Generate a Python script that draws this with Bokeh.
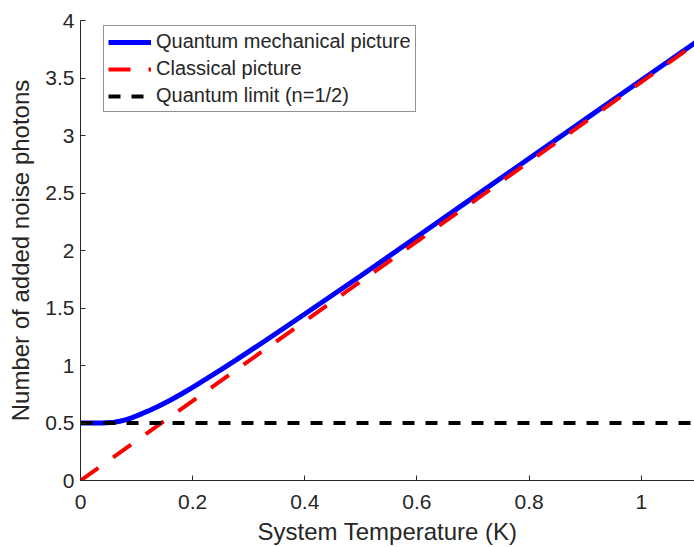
from bokeh.plotting import figure
from bokeh.models import Range1d, FixedTicker, Legend, LegendItem
from bokeh.embed import file_html
from bokeh.resources import INLINE

# Data
temp_quantum = [0.0, 0.02, 0.04, 0.06, 0.07, 0.08, 0.09, 0.1, 0.11, 0.12, 0.14,
                0.16, 0.18, 0.2, 0.225, 0.25, 0.275, 0.3, 0.35, 0.4, 0.5, 0.6,
                0.7, 0.8, 0.9, 1.0, 1.1]
n_quantum = [0.5, 0.5, 0.5005, 0.507, 0.515, 0.527, 0.543, 0.562, 0.582, 0.603,
             0.648, 0.698, 0.752, 0.81, 0.885, 0.962, 1.04, 1.12, 1.283, 1.448,
             1.78, 2.12, 2.46, 2.80, 3.14, 3.48, 3.82]
temp_classical = [0.0, 1.1]
n_classical = [0.0, 3.81]
temp_limit = [0.0, 1.1]
n_limit = [0.5, 0.5]

x_ticks = [0, 0.2, 0.4, 0.6, 0.8, 1]
y_ticks = [0, 0.5, 1, 1.5, 2, 2.5, 3, 3.5, 4]

labels = ["Quantum mechanical picture", "Classical picture", "Quantum limit (n=1/2)"]

TXT = "#262626"
FONT = "Liberation Sans"

def key(v):
    return int(v) if float(v).is_integer() else v

p = figure(width=694, height=547, output_backend="svg", toolbar_location=None,
           x_range=Range1d(0, 1.095), y_range=Range1d(0, 4),
           min_border_left=80, min_border_right=0, min_border_top=20,
           min_border_bottom=67)
p.outline_line_color = None
p.xgrid.visible = False
p.ygrid.visible = False
p.background_fill_color = "white"
p.border_fill_color = "white"

r1 = p.line(temp_quantum, n_quantum, line_color="#0000ff", line_width=5)
r2 = p.line(temp_classical, n_classical, line_color="#ff0000", line_width=4,
            line_dash="22 18")
r3 = p.line(temp_limit, n_limit, line_color="black", line_width=4,
            line_dash="12 11")

for ax, ticks in ((p.xaxis[0], x_ticks), (p.yaxis[0], y_ticks)):
    ax.ticker = FixedTicker(ticks=ticks)
    ax.major_label_overrides = {key(t): str(key(t)) for t in ticks}
    ax.minor_tick_line_color = None
    ax.major_tick_in = 5
    ax.major_tick_out = 0
    ax.axis_line_color = TXT
    ax.major_tick_line_color = TXT
    ax.major_label_text_color = TXT
    ax.major_label_text_font = FONT
    ax.major_label_text_font_size = "21px"
    ax.axis_label_text_color = TXT
    ax.axis_label_text_font = FONT
    ax.axis_label_text_font_size = "24px"
    ax.axis_label_text_font_style = "normal"

p.xaxis[0].axis_label = "System Temperature (K)"
p.yaxis[0].axis_label = "Number of added noise photons"
p.xaxis[0].major_label_standoff = 14
p.yaxis[0].major_label_standoff = 6
p.xaxis[0].axis_label_standoff = 6
p.yaxis[0].axis_label_standoff = 8

legend = Legend(items=[LegendItem(label=labels[0], renderers=[r1]),
                       LegendItem(label=labels[1], renderers=[r2]),
                       LegendItem(label=labels[2], renderers=[r3])],
                location=(23, 368))
legend.label_text_font = FONT
legend.label_text_font_size = "20px"
legend.label_text_color = TXT
legend.glyph_width = 43
legend.glyph_height = 20
legend.label_height = 20
legend.label_standoff = 5
legend.spacing = 4
legend.padding = 4
legend.margin = 0
legend.border_line_color = TXT
legend.border_line_width = 1
legend.background_fill_alpha = 1
p.add_layout(legend, "center")

open("out.html", "w").write(file_html(p, INLINE))
